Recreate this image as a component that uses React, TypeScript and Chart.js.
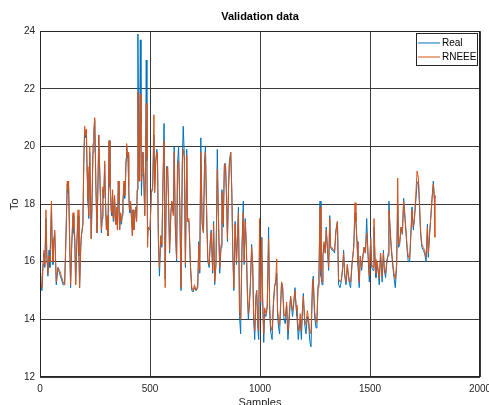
import React, { useEffect, useRef } from "react";
import { Chart, registerables } from "chart.js";
Chart.register(...registerables);

const chartTitle = "Validation data";
const xLabel = "Samples";
const yLabel = "To";
const seriesNames = ["Real", "RNEEE"];
const seriesColors = ["#0072BD", "#D95319"];
const xTicks = [0, 500, 1000, 1500, 2000];
const yTicks = [12, 14, 16, 18, 20, 22, 24];

const sampleIdx = [
  0,3,9,14,18,22,27,31,36,41,
  45,52,55,59,63,67,74,78,82,89,
  97,105,112,118,124,127,130,135,139,144,
  150,154,158,162,167,173,177,180,185,188,
  195,199,203,207,211,214,218,222,226,230,
  233,237,241,245,249,254,259,263,267,270,
  273,279,283,286,290,294,298,302,305,309,
  314,318,321,324,327,330,333,336,339,342,
  345,349,352,356,359,362,366,370,374,377,
  382,385,388,391,394,397,400,403,406,409,
  412,416,420,423,426,430,433,436,439,442,
  445,448,450,453,456,459,461,464,468,472,
  476,480,483,486,489,
  492,500,506,512,518,521,526,531,534,538,
  543,549,554,560,564,569,575,580,584,589,
  595,599,606,610,615,621,625,630,635,641,
  647,651,656,661,667,671,677,684,690,696,
  702,710,717,722,726,731,737,743,748,752,
  759,763,769,774,778,785,789,794,800,806,
  811,817,823,827,833,838,843,847,852,857,
  861,867,872,876,881,887,893,898,902,907,
  912,918,924,928,933,938,942,947,951,956,
  962,967,971,976,981,985,990,994,998,
  1003,1008,1012,1017,1021,1027,1033,1039,1044,1048,
  1055,1061,1067,1071,1076,1080,1085,1089,1094,1098,
  1103,1109,1115,1121,1127,1133,1139,1144,1148,1153,
  1159,1164,1168,1174,1179,1183,1188,1192,1197,1203,
  1209,1215,1221,1227,1232,1238,1242,1248,1255,1259,
  1264,1268,1273,1277,1282,1286,1291,1297,1301,1306,
  1312,1317,1321,1327,1333,1339,1345,1352,1357,1364,
  1370,1376,1380,1385,1391,1397,1401,1408,1412,1418,
  1426,1432,1436,1441,1445,1451,1456,1462,1468,1473,
  1479,1485,1491,1497,
  1503,1508,1514,1518,1523,1527,1532,1538,1542,1548,
  1555,1561,1565,1571,1577,1583,1586,1592,1597,1603,
  1609,1615,1621,1626,1630,1635,1641,1647,1653,1659,
  1665,1670,1674,1680,1686,1691,1697,1702,1708,1714,
  1720,1724,1730,1736,1742,1748,1755,1761,1765,1770,
  1776,1782,1788,1792,1795,
];

const realTemp = [
  15.5,15.2,15.0,15.9,16.3,15.8,17.5,16.2,15.5,16.4,
  15.8,17.9,16.6,15.9,16.8,17.0,15.2,15.5,15.8,15.6,
  15.4,15.2,15.2,16.8,18.7,18.4,18.6,16.6,15.1,16.5,
  17.6,17.0,16.8,15.2,16.5,17.6,16.2,15.1,16.4,16.9,
  17.3,19.4,20.6,20.3,20.5,19.1,18.1,17.5,19.8,18.0,
  16.8,18.2,19.8,20.5,20.9,18.6,17.0,18.5,20.4,19.5,
  18.7,17.0,17.5,18.5,18.2,19.4,18.0,17.1,17.5,16.9,
  20.2,18.6,18.3,17.7,17.6,18.4,17.4,17.8,18.2,17.6,
  17.3,17.8,17.1,18.8,18.0,17.1,17.6,17.3,17.6,18.1,
  18.7,18.2,18.6,19.5,20.0,19.6,19.7,18.6,17.8,17.7,
  18.0,17.5,16.9,17.8,17.1,17.4,17.8,17.9,17.4,18.5,
  23.9,21.0,18.8,20.5,23.7,20.8,18.3,19.0,19.8,18.8,
  17.6,19.5,23.0,19.5,16.9,
  17.2,17.1,18.4,18.5,20.4,18.4,19.5,19.9,19.7,16.7,
  15.5,16.9,16.5,19.2,20.8,15.4,19.3,19.3,18.2,16.3,
  17.7,18.1,17.7,20.0,17.2,16.0,19.4,20.0,18.1,15.0,
  19.5,20.7,19.7,15.8,19.9,17.4,17.4,15.8,15.0,14.95,
  15.1,15.0,15.1,16.7,15.6,20.3,17.3,17.0,19.5,20.0,
  17.1,16.0,15.8,16.7,17.1,15.6,17.4,15.2,15.9,19.9,
  17.5,15.6,16.5,18.5,17.2,19.4,19.4,18.5,16.7,18.6,
  19.5,19.8,18.4,16.4,15.0,17.4,15.9,17.0,17.9,14.1,
  13.5,16.5,18.1,15.9,17.5,16.5,15.0,14.0,14.4,15.1,
  16.6,15.8,14.0,13.3,14.7,15.0,13.7,13.3,17.0,
  14.5,16.85,14.65,13.2,14.2,14.1,14.4,17.2,14.3,13.6,
  13.3,14.5,15.2,15.2,15.6,14.1,13.7,13.5,14.5,15.3,
  15.1,14.0,13.85,14.5,13.3,14.0,14.8,14.4,14.1,14.5,
  15.1,14.4,14.1,13.3,13.7,14.0,13.3,14.1,14.9,13.85,
  13.5,14.1,13.85,13.2,13.05,15.2,15.5,14.1,13.7,14.0,
  15.2,15.5,18.1,15.5,15.2,16.2,16.6,16.3,17.2,16.5,
  15.7,17.6,16.5,16.4,16.4,16.3,17.1,17.4,15.2,15.1,
  15.35,15.8,16.4,15.5,15.2,15.9,15.5,15.2,15.1,15.9,
  16.5,17.7,17.4,16.7,15.9,15.1,16.2,15.7,16.2,16.5,
  16.3,17.5,16.2,15.3,
  16.85,15.8,15.7,17.2,16.0,15.45,15.9,15.6,15.2,16.3,
  15.3,16.4,15.7,15.45,16.0,16.3,18.1,17.0,16.4,15.9,
  15.45,15.1,15.8,18.0,16.5,16.6,17.2,16.95,18.2,17.5,
  16.85,16.3,16.0,16.0,16.95,17.9,17.1,17.5,18.1,18.7,
  18.8,18.1,16.95,16.5,16.4,16.3,16.0,17.3,16.15,16.85,
  17.5,18.2,18.8,18.2,18.3,
];

const rneeeTemp = [
  15.6,15.3,15.1,16.0,16.4,15.9,17.8,16.3,15.6,16.2,
  16.0,18.1,16.8,16.0,16.6,17.1,15.3,15.6,15.8,15.7,
  15.5,15.3,15.2,16.9,18.8,18.5,18.8,16.7,15.2,16.6,
  17.7,17.2,16.9,15.2,16.6,17.8,16.3,15.1,16.5,16.9,
  17.3,19.5,20.7,20.4,20.6,19.3,18.2,17.6,20.0,18.2,
  16.8,18.4,20.1,20.6,21.0,18.7,17.0,18.5,20.4,19.6,
  18.8,17.1,17.6,18.6,18.3,19.5,18.1,17.1,17.6,16.9,
  20.2,18.7,18.4,17.8,17.7,18.5,17.5,17.9,18.3,17.7,
  17.3,17.9,17.1,18.8,18.1,17.1,17.7,17.4,17.7,18.1,
  18.8,18.3,18.6,19.6,20.1,19.7,19.8,18.7,17.9,17.8,
  18.1,17.5,16.9,17.8,17.1,17.4,17.8,17.9,17.4,18.5,
  21.9,20.2,18.8,19.8,21.8,20.0,18.8,19.2,19.8,19.0,
  17.6,19.6,21.5,19.6,16.5,
  17.2,17.1,18.4,18.6,21.1,18.4,19.4,19.8,19.7,16.9,
  15.8,16.9,16.6,19.1,20.2,15.1,19.2,19.3,18.2,16.4,
  17.7,18.1,17.6,19.8,17.3,16.1,19.3,19.5,18.2,15.1,
  19.4,19.9,19.6,15.9,19.7,17.4,17.5,15.9,15.1,15.0,
  15.2,15.0,15.2,16.6,15.7,19.8,17.4,17.0,19.3,19.8,
  17.2,16.1,15.9,16.7,17.0,15.7,17.3,15.3,16.0,19.2,
  17.6,15.8,16.6,18.4,17.3,19.3,19.4,18.5,16.8,18.5,
  19.4,19.8,18.4,16.5,15.1,17.3,16.0,17.0,17.7,14.3,
  14.0,16.4,17.7,16.0,17.4,16.6,15.2,14.2,14.5,15.2,
  16.5,15.9,14.2,13.6,14.8,15.0,13.9,13.6,17.5,
  14.6,16.8,14.8,13.5,14.4,14.2,14.5,16.8,14.5,13.8,
  13.6,14.6,15.2,15.3,16.1,14.3,14.0,13.8,14.6,15.3,
  15.1,14.2,14.1,14.6,13.6,14.2,14.8,14.5,14.3,14.6,
  15.0,14.5,14.3,13.6,13.9,14.2,13.6,14.2,14.8,14.0,
  13.8,14.3,14.0,13.5,13.6,15.0,15.4,14.3,13.9,14.1,
  15.1,15.6,17.9,15.7,15.3,16.2,16.7,16.3,17.1,16.6,
  15.8,17.5,16.5,16.5,16.4,16.4,17.0,17.4,15.4,15.3,
  15.4,15.8,16.3,15.6,15.3,15.9,15.6,15.3,15.3,15.9,
  16.5,18.05,17.4,16.7,16.0,15.3,16.2,15.8,16.2,16.5,
  16.3,17.0,16.3,15.5,
  16.8,15.9,15.8,17.5,16.1,15.6,16.0,15.7,15.4,16.3,
  15.5,16.3,15.8,15.6,16.1,16.2,17.8,17.1,16.5,16.0,
  15.6,15.4,15.9,18.9,16.6,16.7,17.2,17.0,18.1,17.6,
  16.9,16.4,16.2,16.1,17.0,17.8,17.2,17.5,18.3,19.15,
  18.9,18.3,17.1,16.6,16.5,16.4,16.15,17.2,16.3,16.9,
  17.5,18.2,18.7,18.3,16.85,
];

const FONT = "'Liberation Sans', Arial, Helvetica, sans-serif";
const INK = "#262626";
const GRID = "#3a3a3a";

export default function App() {
  const ref = useRef<HTMLCanvasElement>(null);

  useEffect(() => {
    if (!ref.current) return;
    const n = Math.min(sampleIdx.length, realTemp.length, rneeeTemp.length);
    const mk = (vals: number[]) => sampleIdx.slice(0, n).map((x, i) => ({ x, y: vals[i] }));

    const boxAndLegend = {
      id: "boxAndLegend",
      afterDraw(chart: any) {
        const { ctx, chartArea: a } = chart;
        ctx.save();
        ctx.strokeStyle = INK;
        ctx.lineWidth = 1;
        ctx.strokeRect(Math.round(a.left) + 0.5, Math.round(a.top) + 0.5, Math.round(a.right - a.left) - 1, Math.round(a.bottom - a.top) - 1);
        const lw = 61, lh = 32;
        const lx = Math.round(a.right) - 3 - lw;
        const ly = Math.round(a.top) + 2;
        ctx.fillStyle = "#ffffff";
        ctx.fillRect(lx, ly, lw, lh);
        ctx.strokeStyle = INK;
        ctx.strokeRect(lx + 0.5, ly + 0.5, lw, lh);
        ctx.font = `10px ${FONT}`;
        ctx.textBaseline = "middle";
        ctx.textAlign = "left";
        chart.data.datasets.forEach((ds: any, i: number) => {
          const yy = ly + 10 + i * 14;
          ctx.strokeStyle = ds.borderColor;
          ctx.lineWidth = 1;
          ctx.beginPath();
          ctx.moveTo(lx + 2, yy);
          ctx.lineTo(lx + 24, yy);
          ctx.stroke();
          ctx.fillStyle = "#000";
          ctx.fillText(ds.label, lx + 26, yy);
        });
        ctx.restore();
      },
    };

    const chart = new Chart(ref.current, {
      type: "line",
      data: {
        datasets: [
          {
            label: seriesNames[0],
            data: mk(realTemp),
            borderColor: seriesColors[0],
            backgroundColor: seriesColors[0],
            borderWidth: 1,
            pointRadius: 0,
            tension: 0,
            order: 1,
          },
          {
            label: seriesNames[1],
            data: mk(rneeeTemp),
            borderColor: seriesColors[1],
            backgroundColor: seriesColors[1],
            borderWidth: 1,
            pointRadius: 0,
            tension: 0,
            order: 0,
          },
        ],
      },
      options: {
        responsive: false,
        animation: false,
        events: [],
        layout: { padding: { left: 0, right: 9, top: 0, bottom: 0 } },
        plugins: {
          legend: { display: false },
          tooltip: { enabled: false },
          title: {
            display: true,
            text: chartTitle,
            fullSize: false,
            color: "#000",
            font: { family: FONT, size: 11, weight: "bold" },
            padding: { top: 10, bottom: 8 },
          },
        },
        scales: {
          x: {
            type: "linear",
            min: xTicks[0],
            max: xTicks[xTicks.length - 1],
            afterBuildTicks: (s: any) => {
              s.ticks = xTicks.map((v) => ({ value: v }));
            },
            afterFit: (s: any) => {
              s.height = 28;
              s.paddingLeft = 0;
              s.paddingRight = 0;
            },
            ticks: {
              color: INK,
              font: { family: FONT, size: 10 },
              padding: 6,
              maxRotation: 0,
              autoSkip: false,
              callback: (v: any) => String(v),
            },
            grid: { color: GRID, lineWidth: 1, drawTicks: false },
            border: { display: false },
            title: {
              display: true,
              text: xLabel,
              color: INK,
              font: { family: FONT, size: 11 },
              padding: { top: 0, bottom: -5 },
            },
          },
          y: {
            min: yTicks[0],
            max: yTicks[yTicks.length - 1],
            afterBuildTicks: (s: any) => {
              s.ticks = yTicks.map((v) => ({ value: v }));
            },
            afterFit: (s: any) => {
              s.width = 40;
              s.paddingTop = 0;
              s.paddingBottom = 0;
            },
            ticks: {
              color: INK,
              font: { family: FONT, size: 10 },
              padding: 5,
              autoSkip: false,
              callback: (v: any) => String(v),
            },
            grid: { color: GRID, lineWidth: 1, drawTicks: false },
            border: { display: false },
            title: {
              display: true,
              text: yLabel,
              color: INK,
              font: { family: FONT, size: 11 },
              padding: { top: 8, bottom: 0 },
            },
          },
        },
      },
      plugins: [boxAndLegend],
    } as any);

    return () => chart.destroy();
  }, []);

  return (
    <div style={{ position: "fixed", left: 0, top: 0, width: 489, height: 405, background: "#fff", overflow: "hidden" }}>
      <canvas ref={ref} width={489} height={405} style={{ display: "block" }} />
    </div>
  );
}
